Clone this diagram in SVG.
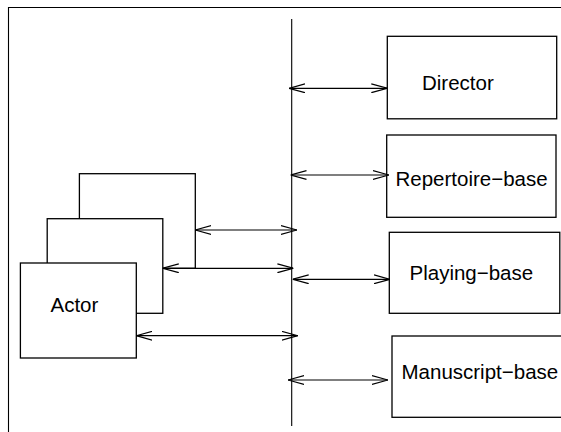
<svg xmlns="http://www.w3.org/2000/svg" width="561" height="432" viewBox="0 0 561 432">
<style>
.box{fill:#fff;stroke:#000;stroke-width:1.3}
.lbl{font-family:"Liberation Sans",Arial,sans-serif;font-size:20.5px;fill:#000}
.ln{stroke:#000;stroke-width:1.1;fill:none}
.arr{stroke:#000;stroke-width:1.2;fill:none;marker-start:url(#ah);marker-end:url(#ah)}
</style>
<defs>
<marker id="ah" viewBox="0 0 16 10" refX="16" refY="5" markerWidth="16" markerHeight="10" markerUnits="userSpaceOnUse" orient="auto-start-reverse">
<path d="M0,0.6 L16,5 L0,9.4" fill="none" stroke="#000" stroke-width="1.2"/>
</marker>
</defs>
<g id="frame">
<path class="ln" d="M8.5,432 V7.5 H561"/>
</g>
<g id="bus">
<line class="ln" x1="291.7" y1="19" x2="291.7" y2="426"/>
</g>
<g id="actor">
<rect class="box" x="79.4" y="173.7" width="115.9" height="94.6"/>
<rect class="box" x="47.2" y="218.7" width="115.6" height="94.6"/>
<rect class="box" x="20.4" y="263" width="115.9" height="95"/>
<text class="lbl" x="50.5" y="311.7">Actor</text>
</g>
<g id="director">
<rect class="box" x="387.3" y="36.3" width="169.4" height="82.5"/>
<text class="lbl" x="422" y="90">Director</text>
</g>
<g id="repertoire">
<rect class="box" x="386.7" y="135" width="169.3" height="82.3"/>
<text class="lbl" x="395.5" y="186">Repertoire−base</text>
</g>
<g id="playing">
<rect class="box" x="389.3" y="232.3" width="170.5" height="81"/>
<text class="lbl" x="409.5" y="280">Playing−base</text>
</g>
<g id="manuscript">
<rect class="box" x="392" y="336" width="172" height="81.3"/>
<text class="lbl" x="401.5" y="379">Manuscript−base</text>
</g>
<g id="connectors">
<line class="arr" x1="289" y1="88.3" x2="387.3" y2="88.3"/>
<line class="arr" x1="290.5" y1="175" x2="389" y2="175"/>
<line class="arr" x1="292.7" y1="279.3" x2="390" y2="279.3"/>
<line class="arr" x1="288" y1="380" x2="388" y2="380"/>
<line class="arr" x1="195.3" y1="230" x2="297" y2="230"/>
<line class="arr" x1="162.8" y1="268.3" x2="293.4" y2="268.3"/>
<line class="arr" x1="136.3" y1="335.7" x2="297.7" y2="335.7"/>
</g>
</svg>
